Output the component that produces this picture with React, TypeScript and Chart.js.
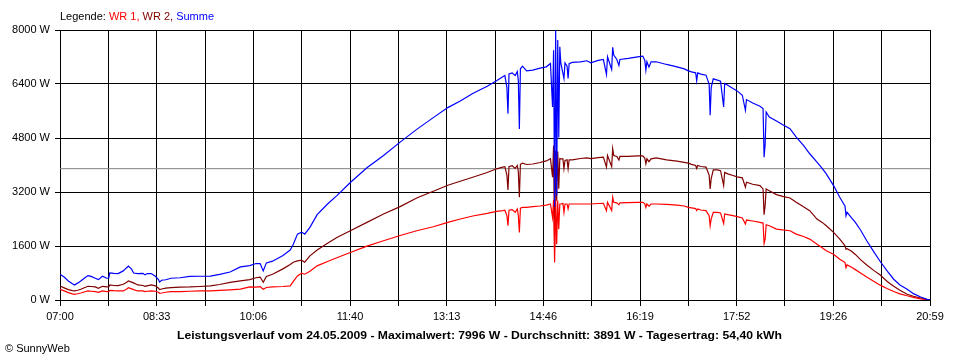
import React, { useEffect, useRef } from "react";
import { Chart, registerables } from "chart.js";

Chart.register(...registerables);

// ---- data ----
const times = [
  "07:00","07:04","07:08","07:12","07:14","07:17","07:20","07:24","07:27","07:30",
  "07:34","07:37","07:41","07:45","07:47","07:48","07:52","07:56","08:01","08:04",
  "08:06","08:09","08:11","08:15","08:20","08:22","08:24","08:28","08:32","08:35",
  "08:36","08:38","08:42","08:47","08:56","09:05","09:15","09:25","09:34","09:44",
  "09:54","10:03","10:09","10:13","10:16","10:19","10:25","10:35","10:42","10:45",
  "10:49","10:53","10:56","11:01","11:08","11:18","11:27","11:40","11:56","12:12",
  "12:28","12:44","13:00","13:14","13:26","13:38","13:52","14:01","14:07","14:09",
  "14:11","14:12","14:13","14:16","14:19","14:21","14:22","14:23","14:24","14:26",
  "14:30","14:36","14:43","14:49","14:53","14:55","14:56","14:57","14:58","14:59",
  "15:00","15:01","15:02","15:03","15:05","15:06","15:07","15:09","15:10","15:11",
  "15:14","15:22","15:28","15:32","15:39","15:44","15:47","15:48","15:52","15:53",
  "15:54","15:57","15:59","16:00","16:08","16:17","16:22","16:24","16:25","16:26",
  "16:28","16:30","16:35","16:45","16:55","17:02","17:06","17:09","17:13","17:14",
  "17:15","17:18","17:23","17:26","17:27","17:28","17:30","17:34","17:37","17:40",
  "17:41","17:44","17:49","17:53","17:58","18:01","18:02","18:08","18:15","18:18",
  "18:19","18:20","18:21","18:24","18:31","18:37","18:44","18:50","18:57","19:03",
  "19:10","19:15","19:19","19:26","19:32","19:36","19:37","19:38","19:39","19:43",
  "19:47","19:52","19:58","20:05","20:11","20:18","20:24","20:30","20:37","20:43",
  "20:50","20:56","20:59"
];

const summe = [
  760,680,565,480,446,500,565,660,723,700,
  645,604,704,645,650,803,790,783,862,950,
  1002,913,800,783,790,744,783,783,704,604,
  530,585,600,645,660,700,704,710,760,830,
  981,1021,1080,1080,862,1100,1150,1318,1480,1650,
  1953,2012,1953,2151,2528,2845,3093,3480,3916,4283,
  4678,5056,5404,5700,5898,6117,6335,6493,6612,6650,
  6300,5522,6700,6731,6650,6771,6500,5066,6850,6929,
  6790,6810,6870,6909,7009,5720,7400,2766,7996,3100,
  7700,4818,7500,7009,6712,6563,7028,6929,6563,7000,
  7039,7058,7088,7028,7100,7128,6683,7206,6830,7485,
  7257,7128,6950,7128,7158,7206,7227,7100,6810,7058,
  6900,7058,7058,6979,6909,6849,6790,6760,6731,6500,
  6731,6692,6662,6400,5472,6300,6552,6513,6480,5720,
  6414,6364,6265,6196,6067,5621,5938,5839,5740,5671,
  4233,4600,5571,5422,5303,5195,5076,4827,4580,4333,
  4083,3900,3738,3390,3043,2830,2796,2498,2597,2450,
  2300,2073,1755,1420,1140,850,615,446,317,188,
  89,20,0
];

const wr2 = [
  416,360,307,280,268,290,317,370,406,400,
  387,347,406,387,390,446,430,426,466,520,
  565,530,506,446,430,406,420,446,420,347,
  310,327,350,366,380,386,400,420,460,520,
  565,604,660,680,526,700,764,922,1050,1120,
  1160,1180,1121,1309,1480,1680,1853,2052,2299,2547,
  2766,3024,3221,3400,3519,3638,3777,3887,3936,3950,
  3700,3262,3950,3980,3900,3985,3800,3043,4020,4054,
  4015,4030,4074,4120,4184,3638,4580,1556,4431,2944,
  4400,3300,4193,4184,4184,3887,4134,4154,3887,4154,
  4154,4193,4213,4190,4220,4233,3936,4283,3950,4481,
  4283,4253,4150,4253,4253,4273,4273,4200,4035,4184,
  4100,4184,4213,4154,4114,4080,4054,4020,3985,3900,
  3985,3955,3936,3700,3291,3600,3856,3856,3830,3390,
  3780,3737,3688,3650,3619,3340,3489,3430,3390,3291,
  2528,2800,3291,3240,3123,3070,3024,2894,2760,2647,
  2399,2300,2200,2002,1804,1650,1606,1508,1520,1450,
  1350,1195,1036,870,740,540,410,290,170,110,
  60,20,0
];

const wr1 = [
  317,270,218,180,168,185,208,245,268,260,
  248,228,268,248,250,288,275,268,268,320,
  366,330,307,268,270,248,260,268,260,228,
  200,208,230,248,250,260,268,270,285,300,
  320,387,380,396,317,370,387,400,416,550,
  714,793,764,850,1011,1140,1250,1407,1596,1755,
  1912,2052,2171,2300,2399,2488,2567,2626,2650,2660,
  2500,2200,2660,2680,2600,2696,2500,2002,2720,2746,
  2746,2766,2786,2810,2845,2448,2964,1110,2994,1655,
  2950,2100,2845,2845,2865,2597,2845,2845,2700,2845,
  2845,2845,2845,2845,2860,2865,2647,2894,2650,3043,
  2894,2880,2820,2880,2885,2894,2894,2850,2746,2845,
  2780,2845,2845,2835,2810,2786,2746,2730,2710,2650,
  2700,2666,2647,2500,2200,2400,2597,2597,2580,2270,
  2550,2528,2500,2468,2430,2250,2369,2340,2300,2280,
  1675,1800,2230,2200,2101,2075,2052,1953,1880,1804,
  1655,1550,1457,1358,1210,1130,1110,962,1041,980,
  900,800,680,550,440,335,250,183,125,80,
  35,10,0
];

const xTickLabels = ["07:00", "08:33", "10:06", "11:40", "13:13", "14:46", "16:19", "17:52", "19:26", "20:59"];
const yMax = 8000;
const yStep = 1600;
const average = 3891;
const legendParts = ["Legende: ", "WR 1, ", "WR 2, ", "Summe"];
const footerText = "Leistungsverlauf vom 24.05.2009 - Maximalwert: 7996 W - Durchschnitt: 3891 W - Tagesertrag: 54,40 kWh";
const creditText = "\u00A9 SunnyWeb";

// ---- styling ----
const RED = "#ff0000";
const DARKRED = "#800000";
const BLUE = "#0000ff";
const GRAY = "#808080";
const FONT = "'Liberation Sans', Arial, sans-serif";

const toMin = (t: string) => {
  const [h, m] = t.split(":").map(Number);
  return h * 60 + m;
};
const startMin = toMin(times[0]);
const endMin = toMin(times[times.length - 1]);
const series = (vals: number[]) => times.map((t, i) => ({ x: toMin(t) - startMin, y: vals[i] }));

const textPlugin = {
  id: "sunnyTexts",
  afterDraw(chart: any) {
    const ctx = chart.ctx as CanvasRenderingContext2D;
    const area = chart.chartArea;
    ctx.save();
    ctx.textBaseline = "alphabetic";
    ctx.font = `11px ${FONT}`;
    const colors = ["#000000", RED, DARKRED, BLUE];
    let x = area.left;
    legendParts.forEach((p, i) => {
      ctx.fillStyle = colors[i];
      ctx.textAlign = "left";
      ctx.fillText(p, x, 20);
      x += ctx.measureText(p).width;
    });
    // footer, stretched horizontally to the reference's wider bitmap font
    ctx.font = `bold 11px ${FONT}`;
    ctx.fillStyle = "#000";
    ctx.textAlign = "left";
    const w = ctx.measureText(footerText).width;
    const targetW = 605;
    const fx = 177;
    ctx.save();
    ctx.translate(fx, 339);
    ctx.scale(targetW / w, 1);
    ctx.fillText(footerText, 0, 0);
    ctx.restore();
    ctx.font = `11px ${FONT}`;
    ctx.textAlign = "left";
    ctx.fillText(creditText, 5, 352);
    ctx.restore();
  },
};

export default function App() {
  const ref = useRef<HTMLCanvasElement | null>(null);

  useEffect(() => {
    document.body.style.margin = "0";
    const canvas = ref.current;
    if (!canvas) return;
    const span = endMin - startMin;
    const lw = 1.2;
    const chart = new Chart(canvas, {
      type: "line",
      data: {
        datasets: [
          { label: "Summe", data: series(summe), borderColor: BLUE, borderWidth: lw, pointRadius: 0, tension: 0, fill: false },
          { label: "WR 1", data: series(wr1), borderColor: RED, borderWidth: lw, pointRadius: 0, tension: 0, fill: false },
          { label: "WR 2", data: series(wr2), borderColor: DARKRED, borderWidth: lw, pointRadius: 0, tension: 0, fill: false },
          {
            label: "Durchschnitt",
            data: [{ x: 0, y: average }, { x: span, y: average }],
            borderColor: GRAY, borderWidth: 1, pointRadius: 0, fill: false,
          },
        ],
      },
      options: {
        responsive: false,
        maintainAspectRatio: false,
        devicePixelRatio: 1,
        animation: false,
        parsing: false as any,
        layout: { padding: { top: 30, right: 30, left: 0, bottom: 0 } },
        plugins: { legend: { display: false }, tooltip: { enabled: false }, title: { display: false } },
        scales: {
          x: {
            type: "linear",
            min: 0,
            max: span,
            afterBuildTicks: (axis: any) => {
              const n = (xTickLabels.length - 1) * 2;
              axis.ticks = Array.from({ length: n + 1 }, (_, i) => ({ value: (span * i) / n }));
            },
            afterFit: (s: any) => { s.height = 60; },
            ticks: {
              autoSkip: false,
              maxRotation: 0,
              minRotation: 0,
              padding: 4,
              color: "#000",
              font: { family: FONT, size: 11 },
              callback: (_v: any, i: number) => (i % 2 === 0 ? xTickLabels[i / 2] : ""),
            },
            grid: { color: "#000", lineWidth: 1, tickLength: 6, drawTicks: true },
            border: { display: true, color: "#000", width: 1 },
          },
          y: {
            type: "linear",
            min: 0,
            max: yMax,
            afterFit: (s: any) => { s.width = 60; },
            ticks: {
              stepSize: yStep,
              padding: 5,
              color: "#000",
              font: { family: FONT, size: 11 },
              callback: (v: any) => `${v} W`,
            },
            grid: { color: "#000", lineWidth: 1, tickLength: 5, drawTicks: true },
            border: { display: true, color: "#000", width: 1 },
          },
        },
      },
      plugins: [textPlugin],
    });
    return () => chart.destroy();
  }, []);

  return (
    <div style={{ width: 960, height: 360, background: "#fff" }}>
      <canvas ref={ref} width={960} height={360} style={{ display: "block", width: 960, height: 360 }} />
    </div>
  );
}
